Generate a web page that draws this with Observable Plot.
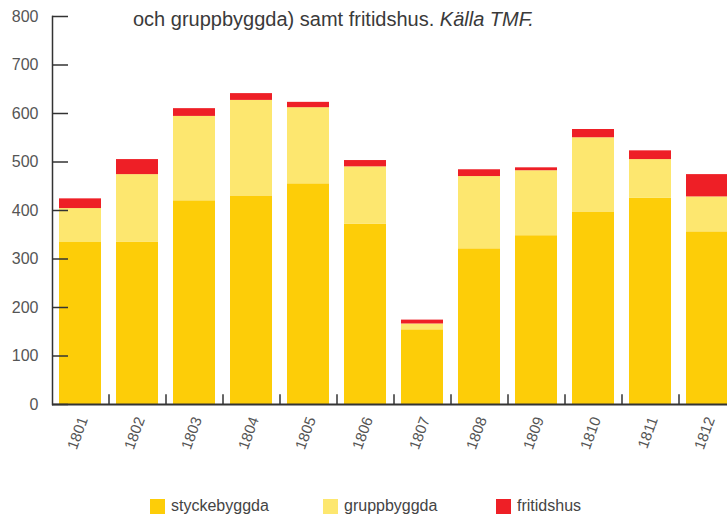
<!DOCTYPE html>
<html><head><meta charset="utf-8">
<script src="https://cdn.jsdelivr.net/npm/d3@7"></script>
<script src="https://cdn.jsdelivr.net/npm/@observablehq/plot@0.6"></script>
<style>
body{margin:0;background:#fff;font-family:"Liberation Sans",Arial,sans-serif;}
#wrap{position:relative;width:727px;height:515px;overflow:hidden;background:#fff;}
#title{position:absolute;left:133px;top:8px;font-size:20px;color:#3a3a3a;white-space:nowrap;}
#legend{position:absolute;top:497px;left:150px;display:flex;font-size:16px;color:#444;}
.item{display:flex;align-items:center;width:173px;}
.sw{width:15px;height:15px;margin-right:6px;}
</style></head><body>
<div id="wrap"><div id="chart"></div><div id="title">och gruppbyggda) samt fritidshus. <i>Källa TMF.</i></div><div id="legend"></div></div>
<script>
const years = ["1801","1802","1803","1804","1805","1806","1807","1808","1809","1810","1811","1812"];
const stycke = [334,335,420,430,455,372,154,321,348,397,425,356];
const grupp  = [70,139,174,197,157,118,12,149,134,153,80,72];
const fritid = [20,31,16,14,11,13,8,14,6,17,18,46];
const series = ["styckebyggda","gruppbyggda","fritidshus"];
const colors = ["#FDCD08","#FDE76F","#EE1F26"];
const yTicks = [0,100,200,300,400,500,600,700,800];

const data = [];
[stycke,grupp,fritid].forEach((arr,i)=>arr.forEach((v,j)=>data.push({year:years[j],type:series[i],value:v})));

const chart = Plot.plot({
  width:727,height:480,marginTop:16,marginLeft:52,marginRight:0,marginBottom:76,
  style:{fontFamily:"Liberation Sans, Arial, sans-serif",color:"#444",background:"#fff"},
  x:{domain:years,range:[52,736],paddingInner:0.263,paddingOuter:0.1315,label:null},
  y:{domain:[0,800],label:null},
  color:{domain:series,range:colors},
  marks:[
    Plot.barY(data,{x:"year",y:"value",fill:"type"}),
    Plot.ruleX(years.slice(0,-1),{x:d=>d,y1:0,y2:20,dx:28.5,stroke:"#333",strokeWidth:1.5}),
    // inward tick marks
    Plot.axisY(yTicks,{anchor:"left",tickSize:16,dx:16,tickFormat:()=>"",label:null,stroke:"#333",strokeWidth:1.5}),
    // tick labels
    Plot.axisY(yTicks,{anchor:"left",tickSize:0,tickPadding:14,fontSize:16,fill:"#555",label:null,tickFormat:d=>String(d)}),
    Plot.axisX({anchor:"bottom",tickSize:0,tickPadding:13,tickRotate:-70,fontSize:15,dx:3,fill:"#555",label:null}),
    Plot.frame({anchor:"left",stroke:"#333",strokeWidth:1.5}),
    Plot.ruleY([0],{stroke:"#333",strokeWidth:2})
  ]
});
document.getElementById("chart").appendChild(chart);

const lg = document.getElementById("legend");
series.forEach((s,i)=>{
  const it=document.createElement("div");it.className="item";
  const sw=document.createElement("div");sw.className="sw";sw.style.background=colors[i];
  const t=document.createElement("span");t.textContent=s;
  it.appendChild(sw);it.appendChild(t);lg.appendChild(it);
});
</script>
</body></html>
